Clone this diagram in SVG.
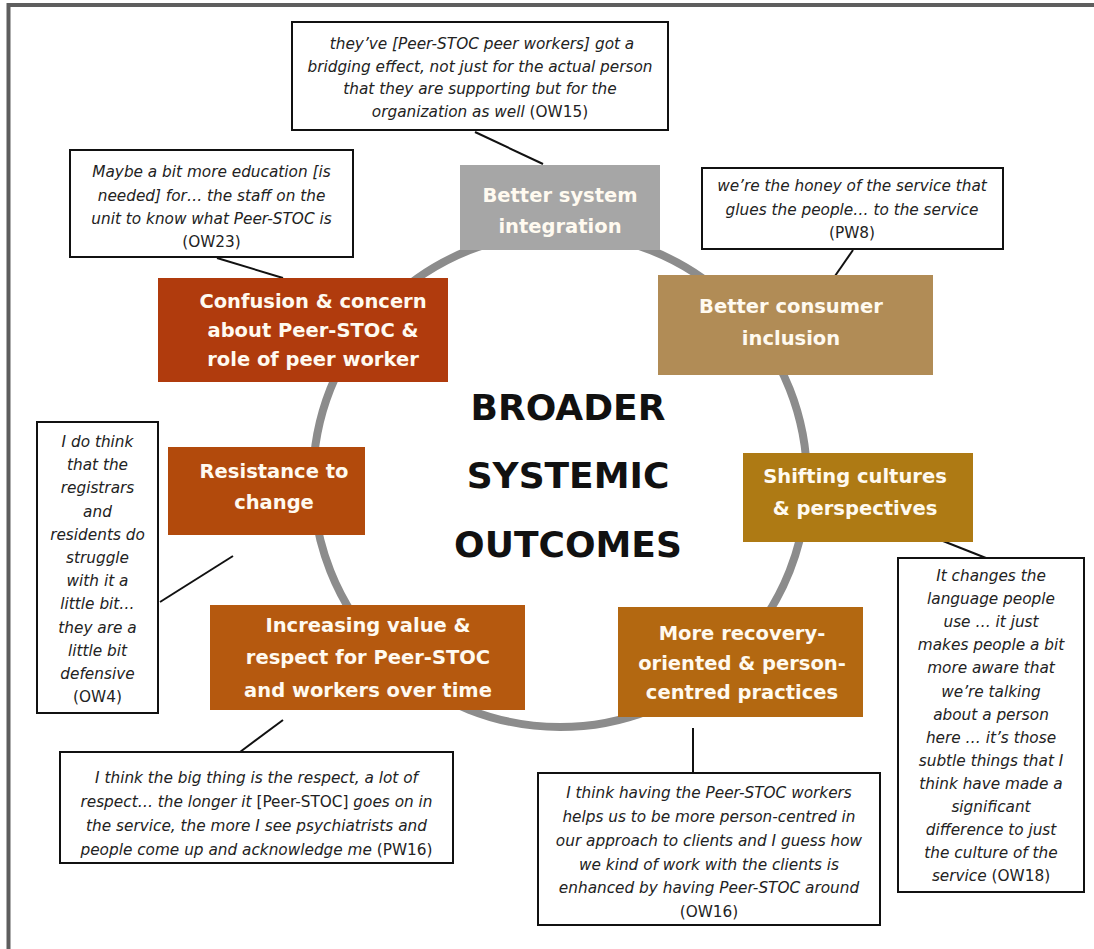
<svg xmlns="http://www.w3.org/2000/svg" width="1094" height="949" viewBox="0 0 1094 949">
  <style>
    .frame { fill: none; stroke: #5e5e5e; stroke-width: 4; }
    .ring { fill: none; stroke: #8c8c8c; stroke-width: 8; }
    .theme text { font-family: "DejaVu Sans", "Liberation Sans", sans-serif; font-weight: bold; font-size: 19.5px; fill: #fffaf0; text-anchor: middle; }
    .quote rect { fill: #ffffff; stroke: #111111; stroke-width: 2; }
    .quote text { font-family: "DejaVu Sans", "Liberation Sans", sans-serif; font-style: italic; font-size: 15.3px; fill: #222222; text-anchor: middle; }
    .quote .upright { font-style: normal; }
    .title { font-family: "DejaVu Sans", "Liberation Sans", sans-serif; font-weight: bold; font-size: 36px; fill: #111111; text-anchor: middle; }
    .links line { stroke: #111111; stroke-width: 2; }
  </style>

  <rect width="1094" height="949" fill="#ffffff"/>
  <rect class="frame" x="8.5" y="5" width="1200" height="1000"/>

  <!-- central ring -->
  <circle class="ring" cx="560" cy="480" r="247"/>

  <!-- central heading -->
  <g id="heading">
    <text class="title" x="568" y="420">BROADER</text>
    <text class="title" x="568" y="488">SYSTEMIC</text>
    <text class="title" x="568" y="557">OUTCOMES</text>
  </g>

  <!-- leader lines from quotes to themes -->
  <g id="connectors" class="links">
    <line x1="475" y1="132" x2="543" y2="164"/>
    <line x1="217" y1="258" x2="283" y2="278"/>
    <line x1="853" y1="250" x2="835" y2="276"/>
    <line x1="943" y1="541" x2="986" y2="558"/>
    <line x1="693" y1="728" x2="693" y2="773"/>
    <line x1="240" y1="752" x2="283" y2="720"/>
    <line x1="160" y1="602" x2="233" y2="556"/>
  </g>

  <!-- themes around the ring -->
  <g id="theme-integration" class="theme">
    <rect x="460" y="165" width="200" height="85" fill="#a6a6a6"/>
    <text x="560" y="202">Better system</text>
    <text x="560" y="233">integration</text>
  </g>

  <g id="theme-inclusion" class="theme">
    <rect x="658" y="275" width="275" height="100" fill="#b18c56"/>
    <text x="791" y="313">Better consumer</text>
    <text x="791" y="345">inclusion</text>
  </g>

  <g id="theme-cultures" class="theme">
    <rect x="743" y="453" width="230" height="89" fill="#ae7a14"/>
    <text x="855" y="483">Shifting cultures</text>
    <text x="855" y="515">&amp; perspectives</text>
  </g>

  <g id="theme-recovery" class="theme">
    <rect x="618" y="607" width="245" height="110" fill="#b36811"/>
    <text x="742" y="640">More recovery-</text>
    <text x="742" y="670">oriented &amp; person-</text>
    <text x="742" y="699">centred practices</text>
  </g>

  <g id="theme-respect" class="theme">
    <rect x="210" y="605" width="315" height="105" fill="#b5590f"/>
    <text x="368" y="632">Increasing value &amp;</text>
    <text x="368" y="664">respect for Peer-STOC</text>
    <text x="368" y="697">and workers over time</text>
  </g>

  <g id="theme-resistance" class="theme">
    <rect x="168" y="447" width="197" height="88" fill="#b24a0c"/>
    <text x="274" y="478">Resistance to</text>
    <text x="274" y="509">change</text>
  </g>

  <g id="theme-confusion" class="theme">
    <rect x="158" y="278" width="290" height="104" fill="#b03b0d"/>
    <text x="313" y="308">Confusion &amp; concern</text>
    <text x="313" y="337">about Peer-STOC &amp;</text>
    <text x="313" y="366">role of peer worker</text>
  </g>

  <!-- participant quotes -->
  <g id="quote-ow15" class="quote">
    <rect x="292" y="22" width="376" height="108"/>
    <text x="482" y="49">they’ve [Peer-STOC peer workers] got a</text>
    <text x="480" y="72">bridging effect, not just for the actual person</text>
    <text x="480" y="94">that they are supporting but for the</text>
    <text x="480" y="117">organization as well <tspan class="upright">(OW15)</tspan></text>
  </g>

  <g id="quote-ow23" class="quote">
    <rect x="70" y="150" width="283" height="107"/>
    <text x="211.5" y="177">Maybe a bit more education [is</text>
    <text x="211.5" y="201">needed] for…  the staff on the</text>
    <text x="211.5" y="224">unit to know what Peer-STOC is</text>
    <text x="211.5" y="247" class="upright">(OW23)</text>
  </g>

  <g id="quote-pw8" class="quote">
    <rect x="702" y="168" width="301" height="81"/>
    <text x="852" y="191">we’re the honey of the service that</text>
    <text x="852" y="215">glues the people… to the service</text>
    <text x="852" y="238" class="upright">(PW8)</text>
  </g>

  <g id="quote-ow18" class="quote">
    <rect x="898" y="558" width="186" height="334"/>
    <text x="991" y="581">It changes the</text>
    <text x="991" y="604">language people</text>
    <text x="991" y="627">use …  it just</text>
    <text x="991" y="650">makes people a bit</text>
    <text x="991" y="673">more aware that</text>
    <text x="991" y="697">we’re talking</text>
    <text x="991" y="720">about a person</text>
    <text x="991" y="743">here …  it’s those</text>
    <text x="991" y="766">subtle things that I</text>
    <text x="991" y="789">think have made a</text>
    <text x="991" y="812">significant</text>
    <text x="991" y="835">difference to just</text>
    <text x="991" y="858">the culture of the</text>
    <text x="991" y="881">service <tspan class="upright">(OW18)</tspan></text>
  </g>

  <g id="quote-ow16" class="quote">
    <rect x="538" y="773" width="342" height="152"/>
    <text x="709" y="798">I think having the Peer-STOC workers</text>
    <text x="709" y="822">helps us to be more person-centred in</text>
    <text x="709" y="846">our approach to clients and I guess how</text>
    <text x="709" y="870">we kind of work with the clients is</text>
    <text x="709" y="893">enhanced by having Peer-STOC around</text>
    <text x="709" y="917" class="upright">(OW16)</text>
  </g>

  <g id="quote-pw16" class="quote">
    <rect x="60" y="752" width="393" height="111"/>
    <text x="256.5" y="783">I think the big thing is the respect, a lot of</text>
    <text x="256.5" y="807">respect… the longer it <tspan class="upright">[Peer-STOC]</tspan> goes on in</text>
    <text x="256.5" y="831">the service, the more I see psychiatrists and</text>
    <text x="256.5" y="855">people come up and acknowledge me <tspan class="upright">(PW16)</tspan></text>
  </g>

  <g id="quote-ow4" class="quote">
    <rect x="37" y="422" width="121" height="291"/>
    <text x="97.5" y="447">I do think</text>
    <text x="97.5" y="470">that the</text>
    <text x="97.5" y="493">registrars</text>
    <text x="97.5" y="517">and</text>
    <text x="97.5" y="540">residents do</text>
    <text x="97.5" y="563">struggle</text>
    <text x="97.5" y="586">with it a</text>
    <text x="97.5" y="609">little bit…</text>
    <text x="97.5" y="633">they are a</text>
    <text x="97.5" y="656">little bit</text>
    <text x="97.5" y="679">defensive</text>
    <text x="97.5" y="702" class="upright">(OW4)</text>
  </g>
</svg>
